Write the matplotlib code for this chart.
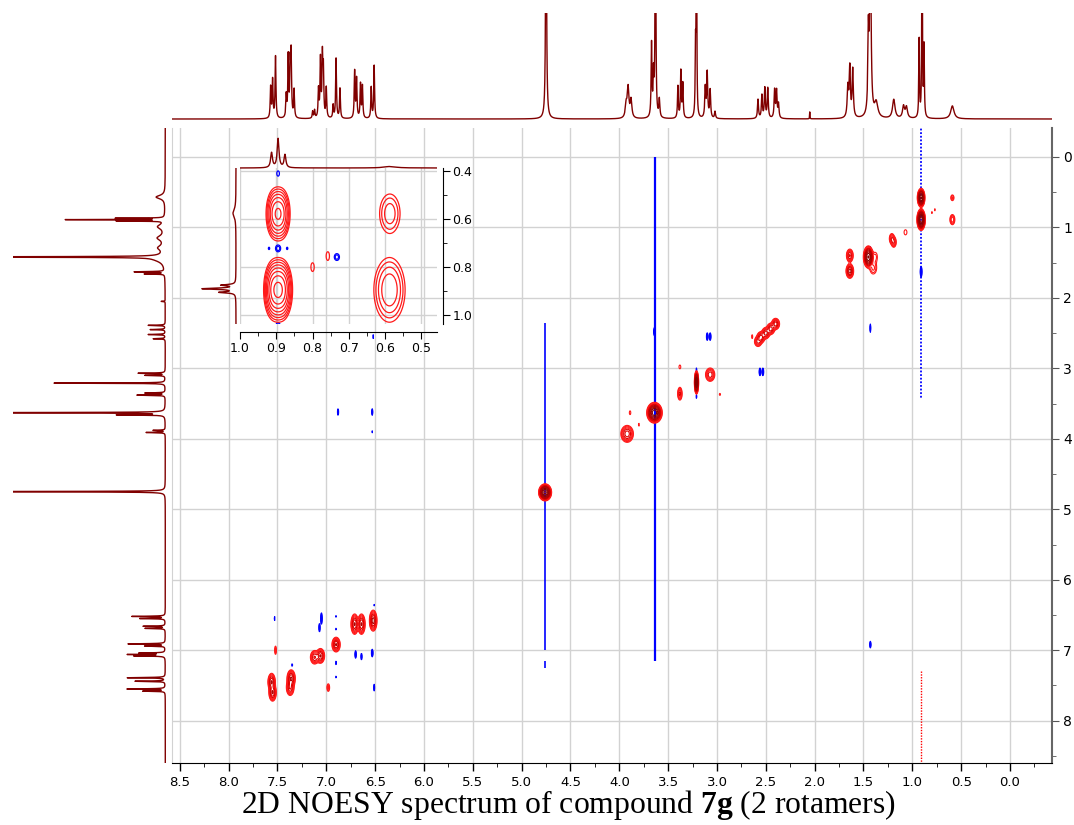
import numpy as np
import matplotlib
matplotlib.use("Agg")
import matplotlib.pyplot as plt
from matplotlib.ticker import MultipleLocator, FormatStrFormatter

plt.rcParams['mathtext.fontset'] = 'custom'
plt.rcParams['mathtext.rm'] = 'Liberation Serif'
plt.rcParams['mathtext.bf'] = 'Liberation Serif:bold'

# ---- 1D projection on top (F2): ppm, height (px units), half width (ppm)
top_ppm = [7.57, 7.55, 7.52, 7.41, 7.39, 7.37, 7.36, 7.33, 7.14, 7.12, 7.08, 7.06,
           7.04, 7.03, 7.00, 6.93, 6.90, 6.86, 6.71, 6.69, 6.65, 6.63, 6.54, 6.51,
           4.75, 3.93, 3.91, 3.88, 3.67, 3.65, 3.63, 3.59, 3.40, 3.37, 3.35, 3.22,
           3.21, 3.12, 3.10, 3.07, 3.02, 2.58, 2.54, 2.51, 2.48, 2.41, 2.39, 2.37,
           2.05, 1.66, 1.64, 1.61, 1.45, 1.43, 1.37, 1.19, 1.09, 1.06, 0.93, 0.90,
           0.88, 0.59]
top_h = [31, 38, 62, 22, 61, 50, 61, 28, 7, 8, 28, 58,
         59, 45, 30, 13, 60, 30, 47, 39, 34, 32, 31, 53,
         300, 13, 30, 18, 73, 40, 300, 18, 32, 47, 34, 63,
         300, 30, 45, 28, 7, 19, 23, 30, 30, 28, 27, 14,
         7, 30, 49, 48, 75, 200, 15, 19, 12, 11, 78, 300,
         70, 13]
top_w = [0.005] * 24 + [0.005, 0.01, 0.01, 0.01, 0.005, 0.005, 0.004, 0.006,
         0.005, 0.005, 0.005, 0.004, 0.003, 0.006, 0.006, 0.006, 0.006,
         0.006, 0.006, 0.006, 0.006, 0.006, 0.006, 0.006, 0.002, 0.008, 0.007,
         0.007, 0.006, 0.008, 0.02, 0.015, 0.012, 0.012, 0.004, 0.003, 0.004, 0.02]

# ---- 1D projection on the left (F1)
left_ppm = [0.57, 0.87, 0.89, 0.91, 0.99, 1.15, 1.29, 1.42, 1.45, 1.63, 1.66, 2.05,
            2.39, 2.45, 2.52, 2.58, 3.07, 3.10, 3.21, 3.35, 3.38, 3.63, 3.66, 3.88,
            3.91, 4.75, 6.52, 6.55, 6.66, 6.69, 6.91, 6.94, 7.04, 7.06, 7.08, 7.39,
            7.44, 7.55, 7.58]
left_h = [9, 47, 97, 45, 7, 7, 6, 300, 9, 30, 20, 4,
          17, 15, 17, 12, 27, 20, 111, 20, 28, 300, 46, 12,
          19, 300, 33, 25, 22, 20, 37, 20, 25, 36, 30, 38,
          30, 38, 22]
left_w = [0.03, 0.003, 0.003, 0.003, 0.04, 0.04, 0.04, 0.004, 0.05, 0.004, 0.004, 0.003,
          0.004, 0.004, 0.004, 0.004, 0.004, 0.004, 0.003, 0.004, 0.004, 0.003, 0.004, 0.004,
          0.004, 0.003, 0.004, 0.004, 0.004, 0.004, 0.004, 0.004, 0.004, 0.004, 0.004, 0.004,
          0.004, 0.004, 0.004]

# ---- 2D cross peaks: F2, F1, amplitude (negative = blue), width F2, width F1
pk_f2 = [0.91, 0.91, 0.59, 0.59, 0.80, 0.77, 1.07, 1.21, 1.19, 1.45, 1.40, 1.38, 1.64, 1.64,
         0.91, 1.43, 1.43, 2.40, 2.45, 2.50, 2.55, 2.58, 2.64, 3.10, 3.07, 2.56, 2.53, 3.64,
         3.38, 3.07, 3.21, 3.21, 3.21, 2.97, 3.38, 3.64, 3.89, 3.92, 3.80, 4.76,
         7.52, 7.56, 7.55, 7.36, 7.37, 7.35, 6.98, 7.05, 7.07, 7.12, 7.06, 6.90, 6.90, 6.90,
         6.90, 6.90, 6.71, 6.64, 6.52, 6.70, 6.64, 6.53, 6.51, 6.51, 7.53, 6.88, 6.53, 6.53,
         1.43, 6.52]
pk_f1 = [0.58, 0.89, 0.58, 0.89, 0.79, 0.75, 1.07, 1.16, 1.21, 1.42, 1.58, 1.42, 1.40, 1.62,
         1.63, 1.30, 2.43, 2.37, 2.44, 2.50, 2.56, 2.62, 2.55, 2.55, 2.55, 3.05, 3.05, 2.48,
         2.98, 3.09, 3.20, 3.02, 3.40, 3.37, 3.36, 3.63, 3.63, 3.93, 3.80, 4.76,
         7.00, 7.45, 7.60, 7.40, 7.53, 7.21, 7.53, 6.55, 6.68, 7.10, 7.08, 6.92, 6.52, 6.70,
         7.18, 7.38, 6.63, 6.63, 6.58, 7.06, 7.09, 7.04, 7.53, 6.36, 6.55, 3.62, 3.62, 3.90,
         6.92, 2.55]
pk_amp = [90, 120, 2.5, 5, 1.4, 1.4, 1.3, 5, 5, 60, 2.5, 1.8, 8, 14,
          -3, -1.5, -2, 10, 10, 10, 10, 6, 1.5, -2.5, -2.5, -2.5, -2.5, -2,
          1.5, 7, 100, -1.5, -1.5, 1.3, 6, 80, 1.5, 10, 1.3, 100,
          2, 12, 12, 12, 8, -1.5, 2.5, -2.5, -2, 8, 12, 12, -1.3, -1.3,
          -1.5, -1.3, 12, 12, 14, -2.5, -2, -2.5, -2, -1.3, -1.3, -2, -2, -1.3,
          -2, -1.5]
pk_w2 = [0.013, 0.014, 0.012, 0.014, 0.004, 0.004, 0.02, 0.014, 0.014, 0.018, 0.025, 0.02, 0.017, 0.017,
         0.006, 0.004, 0.004, 0.019, 0.019, 0.019, 0.019, 0.019, 0.006, 0.006, 0.006, 0.006, 0.006, 0.008,
         0.01, 0.024, 0.007, 0.004, 0.004, 0.008, 0.012, 0.027, 0.008, 0.03, 0.005, 0.022,
         0.008, 0.017, 0.017, 0.019, 0.019, 0.005, 0.01, 0.006, 0.006, 0.021, 0.019, 0.019, 0.004, 0.004,
         0.004, 0.004, 0.017, 0.017, 0.017, 0.005, 0.005, 0.006, 0.004, 0.004, 0.004, 0.005, 0.005, 0.004,
         0.006, 0.003]
pk_w1 = [0.045, 0.05, 0.03, 0.04, 0.02, 0.02, 0.05, 0.04, 0.04, 0.055, 0.06, 0.06, 0.045, 0.045,
         0.05, 0.03, 0.05, 0.037, 0.037, 0.037, 0.037, 0.037, 0.03, 0.04, 0.04, 0.04, 0.04, 0.05,
         0.03, 0.048, 0.055, 0.03, 0.03, 0.02, 0.048, 0.05, 0.03, 0.056, 0.03, 0.04,
         0.05, 0.055, 0.055, 0.055, 0.055, 0.02, 0.04, 0.06, 0.05, 0.047, 0.047, 0.047, 0.02, 0.02,
         0.03, 0.02, 0.065, 0.065, 0.065, 0.04, 0.04, 0.04, 0.04, 0.015, 0.05, 0.04, 0.04, 0.02,
         0.04, 0.03]

# t1-noise stripes
stripe_f2 = [3.63, 4.76, 4.76, 0.91, 0.91]
stripe_top = [0.0, 2.35, 7.15, -0.45, 7.3]
stripe_bot = [7.15, 7.0, 7.25, 3.42, 8.65]
stripe_sign = [-1, -1, -1, -1, 1]

# ---- inset (expansion of the methyl region)
in_f2 = [0.907, 0.895, 0.883, 0.909, 0.895, 0.881, 0.587, 0.588, 0.800, 0.758,
         0.733, 0.895, 0.920, 0.870, 0.895, 0.895]
in_f1 = [0.578, 0.578, 0.578, 0.895, 0.895, 0.895, 0.577, 0.895, 0.800, 0.754,
         0.758, 0.722, 0.722, 0.722, 0.410, 1.045]
in_amp = [6, 6, 6, 10, 10, 10, 3, 5, 1.5, 1.5, -2, -2, -1.2, -1.2, -1.5, -2]
in_w2 = [0.011, 0.011, 0.011, 0.012, 0.012, 0.012, 0.019, 0.024, 0.005, 0.005,
         0.006, 0.006, 0.003, 0.003, 0.004, 0.005]
in_w1 = [0.05, 0.05, 0.05, 0.055, 0.055, 0.055, 0.055, 0.075, 0.02, 0.02,
         0.012, 0.012, 0.008, 0.008, 0.012, 0.012]
in_top_ppm = [0.913, 0.895, 0.876, 0.587]
in_top_h = [15, 29, 13, 1.5]
in_top_w = [0.003, 0.003, 0.003, 0.02]
in_left_ppm = [0.575, 0.875, 0.89, 0.905]
in_left_h = [3, 14, 33, 16]
in_left_w = [0.02, 0.003, 0.003, 0.003]

W, H = 1074, 825
fig = plt.figure(figsize=(W / 100, H / 100), dpi=100)

def box(l, t, r, b):
    return [l / W, 1 - b / H, (r - l) / W, (b - t) / H]

def lorentz(grid, pos, hts, wids):
    s = np.zeros_like(grid)
    for p, h, w in zip(pos, hts, wids):
        s += h * w ** 2 / ((grid - p) ** 2 + w ** 2)
    return s

def field(xg, yg, f2, f1, amp, w2, w1, sign):
    Z = np.zeros((len(yg), len(xg)))
    for x0, y0, a, sx, sy in zip(f2, f1, amp, w2, w1):
        if a * sign > 0:
            Z += abs(a) * np.outer(np.exp(-0.5 * ((yg - y0) / sy) ** 2),
                                   np.exp(-0.5 * ((xg - x0) / sx) ** 2))
    return Z

XL = (8.58, -0.43)
YL = (8.6, -0.41)
dark = '#800000'
levels = 1.5 ** np.arange(14)
red_cols = ['#ff1a1a'] * 4 + ['#e00000'] * 2 + ['#b00000'] * 3 + ['#8a0000'] * 5

# ---- main 2D axes
ax = fig.add_axes(box(172, 128, 1052, 763))
ax.set_xlim(*XL)
ax.set_ylim(*YL)
ax.grid(True, color='#d2d2d2', lw=1)
ax.set_axisbelow(True)
ax.xaxis.set_major_locator(MultipleLocator(0.5))
ax.xaxis.set_minor_locator(MultipleLocator(0.25))
ax.xaxis.set_major_formatter(FormatStrFormatter('%.1f'))
ax.yaxis.set_major_locator(MultipleLocator(1))
ax.yaxis.set_minor_locator(MultipleLocator(0.5))
ax.yaxis.tick_right()
ax.tick_params(axis='x', which='major', length=6, width=1, labelsize=9.5, pad=3)
ax.tick_params(axis='x', which='minor', length=3)
ax.tick_params(axis='y', which='major', length=5, color='#555555', labelsize=10, pad=3)
ax.tick_params(axis='y', which='minor', length=3, color='#555555')
ax.spines['top'].set_visible(False)
ax.spines['left'].set_color('#d2d2d2')
ax.spines['right'].set_color('#666666')
ax.spines['right'].set_linewidth(1.5)

for x0, t, b, sg in zip(stripe_f2, stripe_top, stripe_bot, stripe_sign):
    if sg < 0:
        ls = (0, (1, 1)) if x0 < 1 else '-'
        lw = 1.3 if x0 < 1 else (1.6 if x0 < 4 else 1.2)
        ax.vlines(x0, t, b, colors='#0000ff', linestyles=ls, lw=lw, zorder=2)
    else:
        ax.vlines(x0, t, b, colors='#ff0000', linestyles=(0, (1, 1)), lw=1.0, zorder=2)

xg = np.linspace(-0.45, 8.6, 1850)
yg = np.linspace(-0.45, 8.65, 1300)
Zp = field(xg, yg, pk_f2, pk_f1, pk_amp, pk_w2, pk_w1, 1)
Zn = field(xg, yg, pk_f2, pk_f1, pk_amp, pk_w2, pk_w1, -1)
ax.contour(xg, yg, Zn, levels=levels, colors='#0000ff', linewidths=0.8, zorder=3)
ax.contour(xg, yg, Zp, levels=levels, colors=red_cols, linewidths=0.8, zorder=4)

# ---- top projection
axt = fig.add_axes(box(172, 13, 1052, 122))
g = np.linspace(XL[1], XL[0], 12000)
axt.plot(g, lorentz(g, top_ppm, top_h, top_w), color=dark, lw=1.0)
axt.set_xlim(*XL)
axt.set_ylim(-3, 106)
axt.axis('off')

# ---- left projection
axl = fig.add_axes(box(13, 128, 168, 763))
g = np.linspace(YL[1], YL[0], 12000)
axl.plot(lorentz(g, left_ppm, left_h, left_w), g, color=dark, lw=1.0)
axl.set_xlim(152, -2.7)
axl.set_ylim(*YL)
axl.axis('off')

# ---- inset
IXL = (1.0, 0.457)
IYL = (1.037, 0.387)
axi = fig.add_axes(box(240, 168, 437, 324))
axi.patch.set_alpha(0)
axi.set_xlim(*IXL)
axi.set_ylim(*IYL)
axi.grid(True, color='#d2d2d2', lw=1)
axi.set_axisbelow(True)
axi.xaxis.set_major_locator(MultipleLocator(0.1))
axi.xaxis.set_minor_locator(MultipleLocator(0.05))
axi.xaxis.set_major_formatter(FormatStrFormatter('%.1f'))
axi.yaxis.set_major_locator(MultipleLocator(0.2))
axi.yaxis.set_minor_locator(MultipleLocator(0.1))
axi.yaxis.set_major_formatter(FormatStrFormatter('%.1f'))
axi.yaxis.tick_right()
axi.tick_params(which='major', length=5, labelsize=9, pad=2)
axi.tick_params(which='minor', length=3)
axi.spines['top'].set_visible(False)
axi.spines['left'].set_visible(False)
axi.spines['bottom'].set_position(('outward', 6))
axi.spines['right'].set_position(('outward', 4))
ixg = np.linspace(0.44, 1.02, 700)
iyg = np.linspace(0.37, 1.06, 700)
Zp = field(ixg, iyg, in_f2, in_f1, in_amp, in_w2, in_w1, 1)
Zn = field(ixg, iyg, in_f2, in_f1, in_amp, in_w2, in_w1, -1)
axi.contour(ixg, iyg, Zn, levels=levels, colors='#0000ff', linewidths=0.9)
axi.contour(ixg, iyg, Zp, levels=levels, colors='#ff1a1a', linewidths=0.9)

axit = fig.add_axes(box(240, 135, 437, 170))
g = np.linspace(IXL[1], IXL[0], 3000)
axit.plot(g, lorentz(g, in_top_ppm, in_top_h, in_top_w), color=dark, lw=1.0)
axit.set_xlim(*IXL)
axit.set_ylim(-2, 33)
axit.axis('off')

axil = fig.add_axes(box(200, 168, 238, 324))
g = np.linspace(IYL[1], IYL[0], 3000)
axil.plot(lorentz(g, in_left_ppm, in_left_h, in_left_w), g, color=dark, lw=1.0)
axil.set_xlim(36, -2)
axil.set_ylim(*IYL)
axil.axis('off')

fig.text(568 / W, 1 - 813 / H, r"2D NOESY spectrum of compound $\mathbf{7g}$ (2 rotamers)",
         family='Liberation Serif', fontsize=22.8, ha='center', va='baseline')

fig.savefig('out.png', dpi=100)
